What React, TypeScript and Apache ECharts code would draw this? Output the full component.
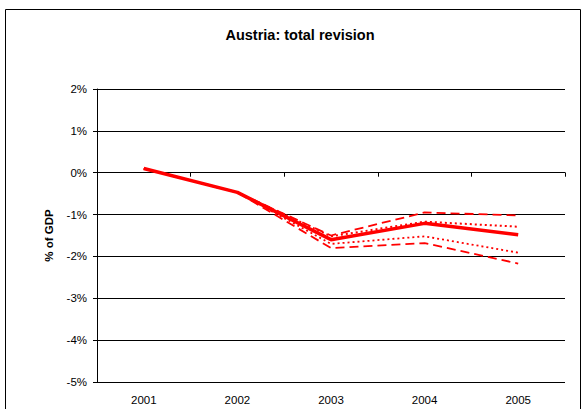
import React, { useEffect, useRef } from "react";
import * as echarts from "echarts";

const years = ["2001", "2002", "2003", "2004", "2005"];
const mainSeries = [0.1, -0.47, -1.6, -1.21, -1.48];
const dashedUpper = [0.1, -0.47, -1.5, -0.95, -1.02];
const dottedUpper = [0.1, -0.47, -1.52, -1.17, -1.29];
const dottedLower = [0.1, -0.47, -1.7, -1.52, -1.91];
const dashedLower = [0.1, -0.47, -1.8, -1.68, -2.17];
const yTicks = [-5, -4, -3, -2, -1, 0, 1, 2];

export default function App() {
  const ref = useRef<HTMLDivElement>(null);
  useEffect(() => {
    if (!ref.current) return;
    const chart = echarts.init(ref.current, null, { renderer: "svg" });
    const font = "Arial, 'Liberation Sans', sans-serif";
    const red = "#ff0000";
    const mk = (name: string, data: number[], type: any, width: number, z: number) => ({
      name,
      type: "line",
      data,
      symbol: "none",
      z,
      lineStyle: { color: red, width, type },
    });
    chart.setOption({
      animation: false,
      backgroundColor: "#ffffff",
      title: {
        text: "Austria: total revision",
        left: 295,
        top: 22,
        textAlign: "center",
        textStyle: { fontFamily: font, fontSize: 14.5, fontWeight: "bold", color: "#000" },
      },
      graphic: [
        {
          type: "rect",
          shape: { x: 5.5, y: 9.5, width: 575, height: 420 },
          style: { fill: "none", stroke: "#000", lineWidth: 1 },
          silent: true,
        },
      ],
      grid: { left: 97, right: 18, top: 89, bottom: 27 },
      xAxis: {
        type: "category",
        data: years,
        boundaryGap: true,
        axisLine: { lineStyle: { color: "#000", width: 1 } },
        axisTick: { show: true, length: 4, lineStyle: { color: "#000" } },
        axisLabel: { fontFamily: font, fontSize: 11.5, color: "#000", margin: 12 },
        splitLine: { show: false },
      },
      yAxis: {
        type: "value",
        min: yTicks[0],
        max: yTicks[yTicks.length - 1],
        interval: 1,
        name: "% of GDP",
        nameLocation: "middle",
        nameGap: 42,
        nameRotate: 90,
        nameTextStyle: { fontFamily: font, fontSize: 11.5, fontWeight: "bold", color: "#000" },
        axisLine: { show: true, lineStyle: { color: "#000", width: 1 } },
        axisTick: { show: true, length: 4, lineStyle: { color: "#000" } },
        axisLabel: {
          fontFamily: font,
          fontSize: 11.5,
          color: "#000",
          margin: 10,
          formatter: (v: number) => `${v}%`,
        },
        splitLine: { show: true, lineStyle: { color: "#000", width: 1 } },
      },
      series: [
        mk("Upper dashed", dashedUpper, [9, 5], 1.8, 2),
        mk("Upper dotted", dottedUpper, [2, 3], 2, 2),
        mk("Lower dotted", dottedLower, [2, 3], 1.8, 2),
        mk("Lower dashed", dashedLower, [9, 5], 1.8, 2),
        mk("Total revision", mainSeries, "solid", 3.5, 3),
      ],
    });
    return () => chart.dispose();
  }, []);
  return (
    <div
      ref={ref}
      style={{ position: "fixed", left: 0, top: 0, width: 583, height: 409 }}
    />
  );
}
